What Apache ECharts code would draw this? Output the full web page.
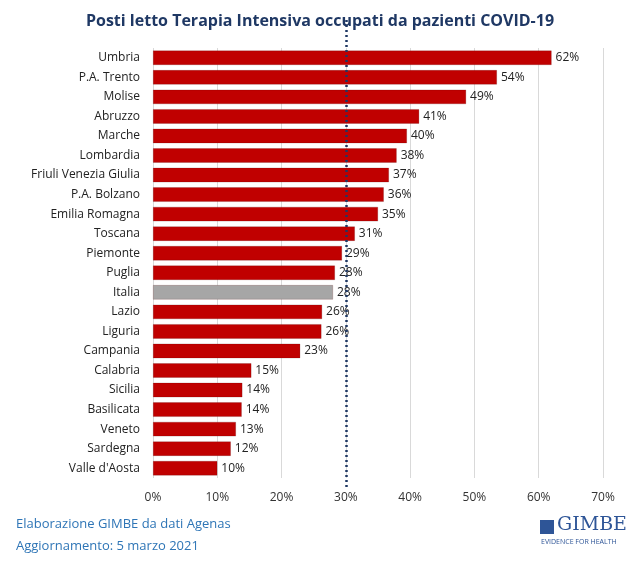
<!DOCTYPE html>
<html><head><meta charset="utf-8">
<script src="https://cdn.jsdelivr.net/npm/echarts@6/dist/echarts.min.js"></script>
<style>body{margin:0;background:#fff}#c{width:640px;height:571px}</style>
</head><body><div id="c"></div>
<script>
// regioni, dall'alto verso il basso
var regioni = ['Umbria','P.A. Trento','Molise','Abruzzo','Marche','Lombardia','Friuli Venezia Giulia','P.A. Bolzano','Emilia Romagna','Toscana','Piemonte','Puglia','Italia','Lazio','Liguria','Campania','Calabria','Sicilia','Basilicata','Veneto','Sardegna',"Valle d'Aosta"];
var occupati = [62.0,53.5,48.7,41.4,39.5,37.9,36.7,35.9,35.0,31.4,29.4,28.3,28.0,26.3,26.2,22.9,15.3,13.9,13.8,12.9,12.1,10.0];
var soglia = 30;
var tickX = [0,10,20,30,40,50,60,70];

var chart = echarts.init(document.getElementById('c'));
var font = 'Open Sans';
chart.setOption({
  backgroundColor: '#fff',
  title: {text: 'Posti letto Terapia Intensiva occupati da pazienti COVID-19', left: 'center', top: 8,
    textStyle: {color: '#1F3864', fontSize: 16, fontWeight: 'bold', fontFamily: font}},
  grid: {left: 153, right: 37, top: 48, bottom: 93},
  xAxis: {type: 'value', min: 0, max: 70, interval: 10,
    axisLabel: {formatter: '{value}%', color: '#333', fontSize: 12, fontFamily: font, margin: 14},
    axisLine: {show: false}, axisTick: {show: false},
    splitLine: {lineStyle: {color: '#d9d9d9'}}},
  yAxis: {type: 'category', inverse: true, data: regioni,
    axisLabel: {color: '#222', fontSize: 12, fontFamily: font, margin: 13},
    axisLine: {show: false}, axisTick: {show: false}},
  series: [{type: 'bar', barWidth: '74%',
    data: occupati.map(function(v, i){
      return {value: v, itemStyle: {color: regioni[i] === 'Italia' ? '#A6A6A6' : '#C00000', borderColor: 'rgba(80,0,0,0.4)', borderWidth: 0.5}};
    }),
    label: {show: true, position: 'right', distance: 4, color: '#222', fontSize: 12, fontFamily: font,
      formatter: function(p){ return Math.round(p.value) + '%'; }},
    markLine: {symbol: 'none', silent: true, label: {show: false},
      lineStyle: {color: '#1F3864', type: [2, 3], width: 2.5},
      data: [[{coord: [soglia, regioni[0]], y: 20}, {xAxis: soglia, y: 488}]]}
  }],
  graphic: [
    {type: 'text', left: 16, top: 518, style: {text: 'Elaborazione GIMBE da dati Agenas', fill: '#2E75B6', fontSize: 13, fontFamily: font}},
    {type: 'text', left: 16, top: 540, style: {text: 'Aggiornamento: 5 marzo 2021', fill: '#2E75B6', fontSize: 13, fontFamily: font}},
    {type: 'rect', left: 540, top: 520, shape: {width: 14, height: 14}, style: {fill: '#2E5597'}},
    {type: 'text', left: 557, top: 516, style: {text: 'GIMBE', fill: '#2E5597', fontSize: 19, fontFamily: 'DejaVu Serif'}},
    {type: 'text', left: 541, top: 538, style: {text: 'EVIDENCE FOR HEALTH', fill: '#2E5597', fontSize: 7, fontFamily: font}}
  ]
});
</script></body></html>
